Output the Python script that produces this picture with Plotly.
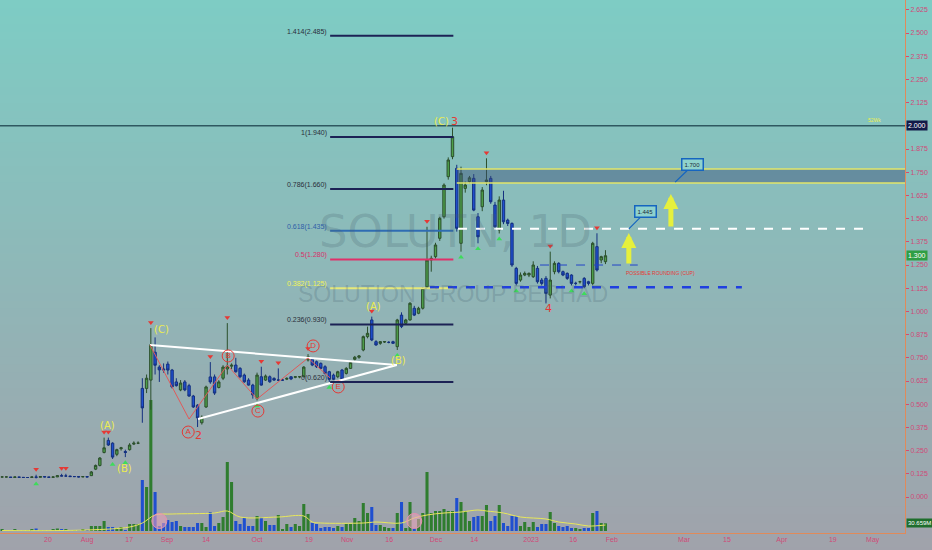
import plotly.graph_objects as go

# ---------------- data ----------------
opens = [0.108,0.108,0.108,0.105,0.108,0.106,0.105,0.105,0.108,0.106,0.110,0.108,0.106,0.108,0.115,0.113,0.113,0.110,0.110,0.108,0.110,
         0.115,0.150,0.170,0.240,0.305,0.290,0.230,0.260,0.245,0.255,0.285,0.290,0.585,0.585,0.630,0.780,0.700,0.690,0.716,0.684,
         0.620,0.577,0.620,0.600,0.544,0.495,0.400,0.485,0.647,0.647,0.590,0.640,0.690,0.705,0.711,0.693,0.657,0.630,0.603,0.532,
         0.648,0.630,0.648,0.639,0.630,0.630,0.635,0.648,0.645,0.648,0.648,0.738,0.742,0.729,0.720,0.702,0.675,0.657,0.648,0.684,
         0.666,0.693,0.742,0.753,0.792,0.864,0.954,0.837,0.828,0.835,0.833,0.837,0.810,0.980,0.936,0.954,1.017,0.990,1.017,1.133,
         1.277,1.295,1.394,1.510,1.726,1.834,1.771,1.367,1.663,1.700,1.717,1.510,1.564,1.699,1.717,1.573,1.439,1.600,1.492,1.474,
         1.232,1.169,1.196,1.196,1.187,1.232,1.169,1.178,1.088,1.214,1.259,1.214,1.205,1.196,1.151,1.160,1.178,1.160,1.151,1.349,
         1.277,1.268]
highs = [0.110,0.110,0.108,0.110,0.108,0.107,0.106,0.110,0.120,0.112,0.110,0.108,0.110,0.118,0.125,0.125,0.114,0.112,0.110,0.112,0.112,
         0.140,0.175,0.215,0.320,0.320,0.295,0.260,0.270,0.255,0.290,0.300,0.300,0.640,0.660,0.910,0.860,0.710,0.720,0.730,0.690,
         0.640,0.630,0.630,0.610,0.550,0.500,0.440,0.600,0.727,0.660,0.630,0.710,0.937,0.720,0.750,0.700,0.665,0.640,0.610,0.670,
         0.702,0.660,0.655,0.645,0.693,0.635,0.645,0.650,0.652,0.650,0.705,0.770,0.750,0.735,0.725,0.710,0.680,0.665,0.680,0.690,
         0.700,0.730,0.760,0.765,0.870,0.918,0.972,0.845,0.840,0.840,0.840,0.842,0.960,0.995,0.960,1.050,1.030,1.025,1.130,1.456,
         1.300,1.370,1.510,1.690,1.830,1.990,1.790,1.780,1.700,1.730,1.740,1.530,1.670,1.825,1.730,1.590,1.620,1.650,1.500,1.480,
         1.240,1.210,1.215,1.210,1.270,1.245,1.180,1.190,1.322,1.270,1.265,1.220,1.210,1.200,1.160,1.165,1.185,1.165,1.375,1.421,
         1.300,1.330]
lows = [0.105,0.106,0.103,0.105,0.104,0.104,0.103,0.105,0.100,0.106,0.106,0.104,0.106,0.108,0.112,0.111,0.109,0.108,0.106,0.107,0.106,
        0.113,0.145,0.165,0.235,0.275,0.205,0.220,0.250,0.215,0.250,0.280,0.285,0.400,0.560,0.470,0.660,0.620,0.670,0.660,0.585,
        0.595,0.570,0.570,0.540,0.480,0.377,0.390,0.480,0.610,0.550,0.585,0.630,0.660,0.690,0.670,0.640,0.615,0.600,0.530,0.520,
        0.600,0.625,0.615,0.625,0.625,0.625,0.630,0.630,0.640,0.640,0.645,0.730,0.705,0.695,0.690,0.660,0.620,0.630,0.640,0.625,
        0.660,0.690,0.735,0.745,0.785,0.855,0.840,0.815,0.820,0.830,0.828,0.825,0.792,0.910,0.930,0.950,0.975,0.985,1.010,1.120,
        1.214,1.285,1.380,1.500,1.710,1.820,1.430,1.322,1.640,1.690,1.540,1.367,1.540,1.680,1.580,1.440,1.420,1.470,1.460,1.240,
        1.140,1.160,1.190,1.185,1.180,1.150,1.140,1.043,1.070,1.200,1.205,1.190,1.170,1.140,1.140,1.150,1.125,1.140,1.140,1.215,
        1.260,1.255]
closes = [0.108,0.108,0.105,0.108,0.106,0.105,0.105,0.108,0.106,0.110,0.108,0.106,0.108,0.115,0.113,0.113,0.110,0.110,0.108,0.110,0.108,
          0.135,0.170,0.210,0.265,0.280,0.215,0.255,0.265,0.240,0.280,0.290,0.290,0.480,0.640,0.820,0.710,0.685,0.685,0.684,0.593,
          0.600,0.614,0.577,0.544,0.485,0.426,0.430,0.593,0.620,0.560,0.620,0.700,0.705,0.710,0.675,0.648,0.621,0.603,0.550,0.657,
          0.603,0.652,0.621,0.630,0.630,0.630,0.639,0.636,0.648,0.648,0.700,0.756,0.711,0.702,0.693,0.666,0.634,0.634,0.675,0.634,
          0.693,0.724,0.753,0.760,0.864,0.882,0.846,0.819,0.837,0.837,0.833,0.828,0.954,0.918,0.954,1.044,0.980,1.017,1.124,1.277,
          1.286,1.358,1.502,1.681,1.816,1.941,1.448,1.744,1.681,1.720,1.546,1.402,1.654,1.708,1.591,1.456,1.600,1.483,1.474,1.250,
          1.151,1.196,1.205,1.205,1.250,1.160,1.151,1.097,1.169,1.259,1.214,1.196,1.178,1.151,1.151,1.160,1.133,1.151,1.367,1.223,
          1.295,1.300]
volumes_m = [6,4,4,6,4,4,4,6,10,4,4,4,6,10,8,8,4,4,4,6,4,
             20,20,20,40,16,16,12,16,4,28,28,28,204,176,524,156,20,32,44,36,
             40,20,16,16,16,32,32,16,76,20,32,56,276,196,40,28,52,20,20,60,
             56,40,24,24,64,8,28,16,28,20,108,68,32,28,12,16,16,12,20,16,
             28,28,52,40,112,72,96,24,24,16,12,12,72,116,12,116,12,48,72,236,
             72,80,80,88,80,80,132,116,80,40,56,60,60,104,40,60,104,32,20,60,
             60,20,36,16,36,16,28,28,76,32,20,16,20,12,12,8,12,12,72,80,
             32,30.659]
vol_ma_idx = [0,20,30,33,36,40,50,53,56,65,71,73,75,85,88,94,97,100,104,108,112,114,118,122,128,131,135,138,142]
vol_ma_m = [2,4,16,32,64,68,72,80,56,56,60,36,32,32,36,32,52,64,72,76,84,80,72,56,48,36,28,20,24]

tick_idx = [10.8,20.0,29.9,38.8,48.0,60.0,72.2,81.2,91.1,102.1,111.1,124.5,134.4,143.5,160.5,170.6,183.5,195.5,204.9]
tick_text = ["20","Aug","17","Sep","14","Oct","19","Nov","16","Dec","14","2023","16","Feb","Mar","15","Apr","19","May"]
price_ticks = [0.0,0.125,0.25,0.375,0.5,0.625,0.75,0.875,1.0,1.125,1.25,1.375,1.5,1.625,1.75,1.875,2.0,2.125,2.25,2.375,2.5,2.625]

fib_ratio = ["1.414","1","0.786","0.618","0.5","0.382","0.236","0"]
fib_price = [2.485,1.940,1.660,1.435,1.280,1.125,0.930,0.620]
fib_start, fib_end = 77.2, 106.2

wave_text = ["(A)","(B)","(C)","A","2","B","C","D","E","(A)","(B)","(C)","3","4"]
wave_idx = [24.7,28.9,37.4,43.8,46.1,53.2,60.2,73.2,79.1,87.3,93.2,103.3,106.4,128.5]
wave_price = [0.383,0.151,0.905,0.350,0.334,0.760,0.463,0.814,0.593,1.024,0.738,2.026,2.026,1.018]

tri_idx = [34.8,92.9,None,46.1,92.9]
tri_price = [0.819,0.711,None,0.420,0.711]
zig_idx = [34.8,44.0,53.0,60.0,72.0,77.2]
zig_price = [0.819,0.420,0.711,0.528,0.749,0.641]

red_mark_idx = [8,14,15,24,25,35,49,53,61,65,72,87,100,114,129,140]
green_mark_idx = [8,26,29,60,77,93,108,112,117,121,134,137]
pink_idx = [37,97]

zone_low, zone_high, zone_start = 1.692, 1.767, 107.0
target_1, target_1_start, target_1_end = 1.445, 107.3, 204.2
support, support_start, support_end = 1.130, 100.7, 174.1
neck, neck_start, neck_end = 1.250, 126.6, 149.6
line_2000 = 2.000
last_close = 1.300

X_MIN, X_MAX = -0.5, 212.5
Y_MIN, Y_MAX = -0.194, 2.678
V_MIN, V_MAX = -8, 2124

idx = list(range(len(closes)))

fig = go.Figure()

# volume (base y axis, behind price)
vcol = ['#2f7d2f' if c >= o else '#1f4fd0' for o, c in zip(opens, closes)]
fig.add_trace(go.Bar(x=idx, y=volumes_m, marker=dict(color=vcol, line=dict(width=0)),
                     width=0.72, yaxis='y', showlegend=False, hoverinfo='skip'))
fig.add_trace(go.Scatter(x=vol_ma_idx, y=vol_ma_m, mode='lines', yaxis='y',
                         line=dict(color='#e8e85a', width=1, shape='spline'), showlegend=False, hoverinfo='skip'))
fig.add_trace(go.Scatter(x=pink_idx, y=[40, 40], mode='markers', yaxis='y',
                         marker=dict(size=15, color='rgba(235,160,185,0.55)', line=dict(color='#e890b0', width=1)),
                         showlegend=False, hoverinfo='skip'))

# triangle + zigzag
fig.add_trace(go.Scatter(x=tri_idx, y=tri_price, mode='lines', yaxis='y2',
                         line=dict(color='white', width=2), showlegend=False, hoverinfo='skip'))
fig.add_trace(go.Scatter(x=zig_idx, y=zig_price, mode='lines', yaxis='y2',
                         line=dict(color='#e05a5a', width=1), showlegend=False, hoverinfo='skip'))

# candles
fig.add_trace(go.Candlestick(x=idx, open=opens, high=highs, low=lows, close=closes, yaxis='y2',
                             increasing=dict(line=dict(color='#2c4f2c', width=1), fillcolor='#4ea04a'),
                             decreasing=dict(line=dict(color='#14307f', width=1), fillcolor='#1f4fd0'),
                             whiskerwidth=0, showlegend=False, hoverinfo='skip'))

# pivot markers
fig.add_trace(go.Scatter(x=red_mark_idx, y=[highs[i] + 0.03 for i in red_mark_idx], mode='markers', yaxis='y2',
                         marker=dict(symbol='triangle-down', size=5, color='#e53935'), showlegend=False, hoverinfo='skip'))
fig.add_trace(go.Scatter(x=green_mark_idx, y=[lows[i] - 0.03 for i in green_mark_idx], mode='markers', yaxis='y2',
                         marker=dict(symbol='triangle-up', size=5, color='#3ddc5a'), showlegend=False, hoverinfo='skip'))

# circled wave labels
circ = [i for i, t in enumerate(wave_text) if t in ("A", "B", "C", "D", "E")]
fig.add_trace(go.Scatter(x=[wave_idx[i] for i in circ], y=[wave_price[i] for i in circ], yaxis='y2',
                         mode='markers+text', text=[wave_text[i] for i in circ], textposition='middle center',
                         textfont=dict(color='#e53935', size=8, family='Liberation Sans'),
                         marker=dict(symbol='circle-open', size=12, color='#e53935', line=dict(width=1)),
                         showlegend=False, hoverinfo='skip'))

shapes = []
# background gradient bands
N = 70
top = (126, 204, 196)
bot = (160, 162, 171)
y_lo, y_hi = -0.04, 1.0
for k in range(N):
    f = k / (N - 1)
    col = tuple(int(round(bot[j] + (top[j] - bot[j]) * f)) for j in range(3))
    shapes.append(dict(type='rect', xref='paper', yref='paper', x0=-0.01, x1=1.05,
                       y0=y_lo + (y_hi - y_lo) * k / N, y1=y_lo + (y_hi - y_lo) * (k + 1) / N + 0.002,
                       fillcolor='rgb(%d,%d,%d)' % col, line=dict(width=0), layer='below'))

# 2.000 line
shapes.append(dict(type='line', xref='paper', yref='y2', x0=0, x1=1, y0=line_2000, y1=line_2000,
                   line=dict(color='#2f5860', width=1.5)))
# fib lines
fib_line_col = ['#1c2255', '#1c2255', '#1c2255', '#2f6cb3', '#e0306a', '#e6e87a', '#1c2255', '#1c2255']
fib_text_col = ['#2a2e3a', '#2a2e3a', '#2a2e3a', '#2f5fa8', '#d8306a', '#f2f25a', '#2a2e3a', '#2a2e3a']
for p, c in zip(fib_price, fib_line_col):
    shapes.append(dict(type='line', xref='x', yref='y2', x0=fib_start, x1=fib_end, y0=p, y1=p,
                       line=dict(color=c, width=2)))
# supply zone
shapes.append(dict(type='rect', xref='x', yref='y2', x0=zone_start, x1=X_MAX, y0=zone_low, y1=zone_high,
                   fillcolor='rgba(60,80,125,0.45)', line=dict(width=0)))
for p in (zone_low, zone_high):
    shapes.append(dict(type='line', xref='x', yref='y2', x0=zone_start, x1=X_MAX, y0=p, y1=p,
                       line=dict(color='#e2e66a', width=1.5)))
# dashed levels
shapes.append(dict(type='line', xref='x', yref='y2', x0=target_1_start, x1=target_1_end, y0=target_1, y1=target_1,
                   line=dict(color='white', width=2, dash='dash')))
shapes.append(dict(type='line', xref='x', yref='y2', x0=support_start, x1=support_end, y0=support, y1=support,
                   line=dict(color='#1f3fe0', width=2.5, dash='dash')))
shapes.append(dict(type='line', xref='x', yref='y2', x0=neck_start, x1=neck_end, y0=neck, y1=neck,
                   line=dict(color='#2444c8', width=1, dash='dash')))

annotations = []
font_sm = 'Liberation Sans, Arial, sans-serif'
# watermark
annotations.append(dict(x=106.6, y=1.43, xref='x', yref='y2', text='SOLUTN, 1D', showarrow=False,
                        font=dict(size=45, color='rgba(70,95,110,0.24)', family='DejaVu Sans')))
annotations.append(dict(x=106.0, y=1.095, xref='x', yref='y2', text='SOLUTION GROUP BERHAD', showarrow=False,
                        font=dict(size=23, color='rgba(70,95,110,0.24)', family='Liberation Sans')))
# fib labels
for r, p, c in zip(fib_ratio, fib_price, fib_text_col):
    annotations.append(dict(x=fib_start, y=p, xref='x', yref='y2', text='%s(%.3f)' % (r, p), showarrow=False,
                            xanchor='right', yanchor='middle', xshift=-1, yshift=4,
                            font=dict(size=7, color=c, family=font_sm)))
# wave labels (non-circled)
for t, xi, yp in zip(wave_text, wave_idx, wave_price):
    if t in ("A", "B", "C", "D", "E"):
        continue
    col = '#ecec50' if t.startswith('(') else '#e53935'
    annotations.append(dict(x=xi, y=yp, xref='x', yref='y2', text=t, showarrow=False,
                            font=dict(size=10 if t.startswith('(') else 11, color=col, family='DejaVu Sans')))
# callouts
annotations.append(dict(x=147.5, y=target_1, xref='x', yref='y2', ax=151.5, ay=1.536, axref='x', ayref='y2',
                        text='1.445', showarrow=True, arrowhead=0, arrowwidth=1.2, arrowcolor='#1565c0',
                        bgcolor='#8fd2cc', bordercolor='#1565c0', borderwidth=1.5, borderpad=2,
                        font=dict(size=6, color='#1a2a3a', family=font_sm)))
annotations.append(dict(x=158.4, y=1.697, xref='x', yref='y2', ax=162.6, ay=1.789, axref='x', ayref='y2',
                        text='1.700', showarrow=True, arrowhead=0, arrowwidth=1.2, arrowcolor='#1565c0',
                        bgcolor='#8fd2cc', bordercolor='#1565c0', borderwidth=1.5, borderpad=2,
                        font=dict(size=6, color='#1a2a3a', family=font_sm)))
# yellow arrows
annotations.append(dict(x=147.5, y=1.422, xref='x', yref='y2', ax=147.5, ay=1.25, axref='x', ayref='y2',
                        text='', showarrow=True, arrowhead=2, arrowsize=0.6, arrowwidth=5, arrowcolor='#e6f03c'))
annotations.append(dict(x=157.4, y=1.633, xref='x', yref='y2', ax=157.4, ay=1.449, axref='x', ayref='y2',
                        text='', showarrow=True, arrowhead=2, arrowsize=0.6, arrowwidth=5, arrowcolor='#e6f03c'))
annotations.append(dict(x=155.0, y=1.207, xref='x', yref='y2', text='POSSIBLE ROUNDING (CUP)', showarrow=False,
                        font=dict(size=5, color='#e53935', family=font_sm)))
annotations.append(dict(x=205.4, y=2.03, xref='x', yref='y2', text='52Wk', showarrow=False,
                        font=dict(size=5, color='#eef050', family=font_sm)))
# axis value tags
annotations.append(dict(x=1, y=line_2000, xref='paper', yref='y2', text='2.000', showarrow=False, xanchor='left',
                        xshift=1, bgcolor='#131a48', font=dict(size=7, color='white', family=font_sm), borderpad=1))
annotations.append(dict(x=1, y=last_close, xref='paper', yref='y2', text='1.300', showarrow=False, xanchor='left',
                        xshift=1, bgcolor='#2f9e44', font=dict(size=7, color='white', family=font_sm), borderpad=1))
annotations.append(dict(x=1, y=volumes_m[-1], xref='paper', yref='y', text='30.659M', showarrow=False, xanchor='left',
                        xshift=1, bgcolor='#1e6e2c', font=dict(size=6, color='white', family=font_sm), borderpad=1))

fig.update_layout(
    width=932, height=550,
    margin=dict(l=0, r=27, t=0, b=17, autoexpand=False),
    paper_bgcolor='rgb(160,162,171)', plot_bgcolor='rgba(0,0,0,0)',
    showlegend=False, boxgap=0.2,
    shapes=shapes, annotations=annotations,
    xaxis=dict(range=[X_MIN, X_MAX], tickmode='array', tickvals=tick_idx, ticktext=tick_text,
               showgrid=False, zeroline=False, showline=True, linecolor='#e08a5a', linewidth=1,
               ticks='', tickfont=dict(size=7, color='#d04a78', family=font_sm),
               rangeslider=dict(visible=False), fixedrange=True),
    yaxis=dict(range=[V_MIN, V_MAX], visible=False, showgrid=False, zeroline=False, fixedrange=True),
    yaxis2=dict(range=[Y_MIN, Y_MAX], overlaying='y', side='right', anchor='x', tickmode='array',
                tickvals=price_ticks, ticktext=['%.3f' % v for v in price_ticks],
                showgrid=False, zeroline=False, showline=True, linecolor='#e08a5a', linewidth=1,
                ticks='outside', ticklen=3, tickcolor='#d04a78',
                tickfont=dict(size=7, color='#d04a78', family=font_sm), fixedrange=True),
)

fig.write_html("out.html", config={'displayModeBar': False},
               post_script="document.body.style.margin='0px';document.body.style.padding='0px';"
                           "document.body.style.overflow='hidden';window.dispatchEvent(new Event('resize'));")
